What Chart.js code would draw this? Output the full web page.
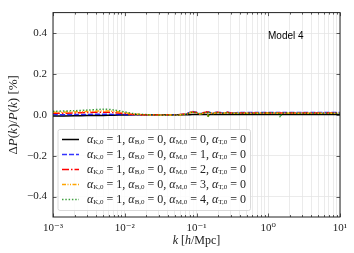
<!DOCTYPE html>
<html lang="en">
<head>
  <meta charset="UTF-8">
  <title>Model 4</title>
  <script src="https://cdn.jsdelivr.net/npm/chart.js"></script>
  <style>
    html, body { margin: 0; padding: 0; background: #fff; }
    #wrap { width: 354px; height: 253px; }
  </style>
</head>
<body>
  <div id="wrap"><canvas id="chart" width="354" height="253"></canvas></div>

  <script>
    // wavenumbers k [h/Mpc]
    const kValues = [0.001, 0.002, 0.003, 0.005, 0.007, 0.01, 0.013, 0.02, 0.04, 0.06,
      0.075, 0.087, 0.1, 0.113, 0.128, 0.141, 0.146, 0.152, 0.166, 0.2,
      0.23, 0.27, 0.3, 0.4, 0.7, 1.4, 1.48, 1.56, 3, 10];

    // ΔP(k)/P(k) [%] for alpha_M,0 = 0..4
    const aM0 = [-0.006, -0.005, -0.004, -0.003, -0.002, -0.001, 0, 0, 0, 0,
      0, 0.001, 0.001, 0.001, 0.001, 0.001, 0.001, 0.001, 0.001, 0.001,
      0.001, 0.001, 0.001, 0.001, 0.001, 0.001, 0.001, 0.001, 0.001, 0.001];
    const aM1 = [0.000, 0.001, 0.002, 0.003, 0.002, 0.001, 0, 0, 0, 0.001,
      0.007, 0.016, 0.012, 0.006, 0.012, 0.015, 0.014, 0.013, 0.008, 0.014,
      0.009, 0.013, 0.010, 0.011, 0.011, 0.011, 0.011, 0.011, 0.011, 0.011];
    const aM2 = [0.007, 0.009, 0.011, 0.013, 0.011, 0.006, 0.002, 0, 0, 0.001,
      0.006, 0.014, 0.011, 0.005, 0.011, 0.014, 0.013, 0.012, 0.007, 0.013,
      0.008, 0.012, 0.009, 0.009, 0.009, 0.009, 0.009, 0.009, 0.009, 0.009];
    const aM3 = [0.012, 0.014, 0.016, 0.019, 0.017, 0.010, 0.004, 0.000, -0.001, 0.000,
      0.005, 0.013, 0.010, 0.004, 0.010, 0.013, -0.008, 0.012, 0.006, 0.012,
      0.007, 0.011, 0.008, 0.008, 0.008, 0.008, 0.008, 0.008, 0.008, 0.008];
    const aM4 = [0.017, 0.020, 0.023, 0.027, 0.024, 0.014, 0.006, 0.001, -0.001, 0.000,
      0.005, 0.012, 0.010, 0.004, 0.009, 0.012, -0.012, 0.011, 0.006, 0.011,
      0.007, 0.010, 0.008, 0.008, 0.008, 0.007, -0.012, 0.007, 0.007, 0.007];

    const mValues = ['0', '1', '2', '3', '4'];
    const xMajor = [0.001, 0.01, 0.1, 1, 10];
    const xLabels = ['10⁻³', '10⁻²', '10⁻¹', '10⁰', '10¹'];
    const yTicks = [-0.4, -0.2, 0.0, 0.2, 0.4];
    const yLabels = ['−0.4', '−0.2', '0.0', '0.2', '0.4'];

    const SERIF = '"Liberation Serif", "DejaVu Serif", serif';

    // major + minor positions on the log axis
    const xAll = [];
    for (let e = -3; e < 1; e++) {
      for (let m = 1; m < 10; m++) xAll.push(m * Math.pow(10, e));
    }
    xAll.push(10);

    const styles = [
      { color: '#000000', dash: [] },
      { color: 'rgba(0,0,255,0.8)', dash: [5, 2] },
      { color: '#ff0000', dash: [7, 2, 1.5, 2] },
      { color: '#ffa500', dash: [4, 1.5, 1, 1.5, 1, 1.5] },
      { color: 'rgba(0,128,0,0.75)', dash: [1.5, 1.8] }
    ];
    const series = [aM0, aM1, aM2, aM3, aM4];

    function legendParts(m) {
      const parts = [];
      const pairs = [['K,0', '1'], ['B,0', '0'], ['M,0', m], ['T,0', '0']];
      pairs.forEach((p, i) => {
        parts.push({ t: 'α', f: 'italic 12px ' + SERIF, dy: 0 });
        parts.push({ t: p[0], f: '7px ' + SERIF, dy: 2.5 });
        parts.push({ t: ' = ' + p[1] + (i < 3 ? ', ' : ''), f: '12px ' + SERIF, dy: 0 });
      });
      return parts;
    }

    // draws a run of differently styled pieces centred on (cx, cy)
    function drawRun(ctx, parts, cx, cy) {
      let total = 0;
      parts.forEach(p => { ctx.font = p.f; total += ctx.measureText(p.t).width; });
      let x = cx - total / 2;
      ctx.textAlign = 'left';
      parts.forEach(p => {
        ctx.font = p.f;
        ctx.fillText(p.t, x, cy);
        x += ctx.measureText(p.t).width;
      });
    }

    const extras = {
      id: 'extras',
      afterDraw(chart) {
        const ctx = chart.ctx;
        const a = chart.chartArea;
        const xs = chart.scales.x, ys = chart.scales.y;
        ctx.save();

        // inward ticks on all four sides
        ctx.strokeStyle = '#333';
        ctx.lineWidth = 0.8;
        ctx.beginPath();
        xAll.forEach(v => {
          const px = Math.round(xs.getPixelForValue(v)) + 0.5;
          const len = xMajor.includes(v) ? 3.5 : 2;
          ctx.moveTo(px, a.bottom); ctx.lineTo(px, a.bottom - len);
          ctx.moveTo(px, a.top); ctx.lineTo(px, a.top + len);
        });
        yTicks.forEach(v => {
          const py = Math.round(ys.getPixelForValue(v)) + 0.5;
          ctx.moveTo(a.left, py); ctx.lineTo(a.left + 3.5, py);
          ctx.moveTo(a.right, py); ctx.lineTo(a.right - 3.5, py);
        });
        ctx.stroke();

        // frame
        ctx.strokeStyle = '#222';
        ctx.lineWidth = 1;
        ctx.strokeRect(a.left, a.top, a.right - a.left, a.bottom - a.top);

        // model label
        ctx.fillStyle = '#000';
        ctx.font = '10px "Liberation Sans", Arial, sans-serif';
        ctx.textAlign = 'left';
        ctx.textBaseline = 'middle';
        ctx.fillText('Model 4', 268, 36);

        // axis titles
        ctx.fillStyle = '#222';
        const it12 = 'italic 12px ' + SERIF, up12 = '12px ' + SERIF;
        drawRun(ctx, [
          { t: 'k', f: it12 }, { t: ' [', f: up12 }, { t: 'h', f: it12 }, { t: '/Mpc]', f: up12 }
        ], (a.left + a.right) / 2, 241);
        ctx.save();
        ctx.translate(14, (a.top + a.bottom) / 2);
        ctx.rotate(-Math.PI / 2);
        const it13 = 'italic 13px ' + SERIF, up13 = '13px ' + SERIF;
        drawRun(ctx, [
          { t: 'Δ', f: up13 }, { t: 'P', f: it13 }, { t: '(', f: up13 }, { t: 'k', f: it13 },
          { t: ')/', f: up13 }, { t: 'P', f: it13 }, { t: '(', f: up13 }, { t: 'k', f: it13 },
          { t: ') [%]', f: up13 }
        ], 0, 0);
        ctx.restore();

        // legend
        const bx = 58, by = 129.5, bw = 192.5, bh = 81;
        ctx.fillStyle = 'rgba(255,255,255,0.85)';
        ctx.strokeStyle = '#d0d0d0';
        ctx.lineWidth = 0.8;
        ctx.beginPath();
        ctx.roundRect(bx, by, bw, bh, 2);
        ctx.fill();
        ctx.stroke();
        styles.forEach((s, i) => {
          const cy = 139.5 + i * 15;
          ctx.strokeStyle = s.color;
          ctx.lineWidth = 1.5;
          ctx.setLineDash(s.dash);
          ctx.beginPath();
          ctx.moveTo(62, cy); ctx.lineTo(79, cy);
          ctx.stroke();
          ctx.setLineDash([]);
          let x = 87;
          ctx.fillStyle = '#222';
          ctx.textAlign = 'left';
          ctx.textBaseline = 'middle';
          legendParts(mValues[i]).forEach(p => {
            ctx.font = p.f;
            ctx.fillText(p.t, x, cy + p.dy);
            x += ctx.measureText(p.t).width;
          });
        });
        ctx.restore();
      }
    };

    new Chart(document.getElementById('chart'), {
      type: 'line',
      data: {
        datasets: series.map((vals, i) => ({
          label: 'alpha_M,0 = ' + mValues[i],
          data: kValues.map((k, j) => ({ x: k, y: vals[j] })),
          borderColor: styles[i].color,
          borderDash: styles[i].dash,
          borderWidth: 1.5,
          pointRadius: 0,
          tension: 0.3,
          fill: false
        })).reverse()
      },
      options: {
        responsive: false,
        animation: false,
        layout: { padding: { left: 0, right: 14, top: 8, bottom: 0 } },
        plugins: { legend: { display: false }, tooltip: { enabled: false } },
        scales: {
          x: {
            type: 'logarithmic',
            min: 0.001,
            max: 10,
            afterBuildTicks: s => { s.ticks = xAll.map(v => ({ value: v })); },
            afterFit: s => { s.height = 36; },
            grid: { color: '#e6e6e6', lineWidth: 0.8, drawTicks: false },
            border: { display: false },
            ticks: {
              autoSkip: false,
              maxRotation: 0,
              padding: 5,
              color: '#222',
              font: { family: SERIF, size: 11 },
              callback: v => {
                const i = xMajor.findIndex(m => Math.abs(m - v) / m < 1e-6);
                return i >= 0 ? xLabels[i] : '';
              }
            }
          },
          y: {
            min: -0.5,
            max: 0.5,
            afterBuildTicks: s => { s.ticks = yTicks.map(v => ({ value: v })); },
            afterFit: s => { s.width = 53; },
            grid: { color: '#e6e6e6', lineWidth: 0.8, drawTicks: false },
            border: { display: false },
            ticks: {
              padding: 6,
              color: '#222',
              font: { family: SERIF, size: 11 },
              callback: v => {
                const i = yTicks.findIndex(t => Math.abs(t - v) < 1e-6);
                return i >= 0 ? yLabels[i] : '';
              }
            }
          }
        }
      },
      plugins: [extras]
    });
  </script>
</body>
</html>
